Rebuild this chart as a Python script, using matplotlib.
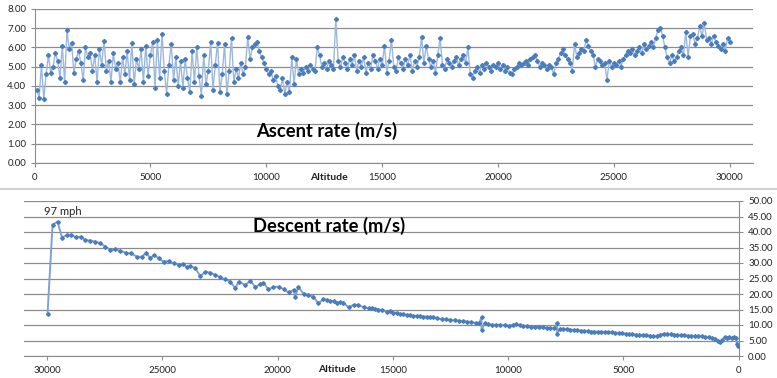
import numpy as np
import matplotlib
matplotlib.use("Agg")
import matplotlib.pyplot as plt
from matplotlib.ticker import FormatStrFormatter
from matplotlib.lines import Line2D

plt.rcParams["font.family"] = ["Lato", "DejaVu Sans"]

# ======= Dane: wznoszenie (co 100 m od 100 do 30000 m) =======
ascent_alt = np.arange(100, 30001, 100)
ascent_rate = [
    3.8, 3.4, 5.1, 3.3, 4.6, 5.6, 4.7, 5.0, 5.7, 5.3,
    4.4, 6.1, 4.2, 6.9, 5.9, 6.25, 4.7, 5.4, 5.8, 5.2,
    4.3, 6.0, 5.5, 5.7, 4.8, 5.6, 4.2, 5.9, 5.1, 6.35,
    4.8, 5.3, 4.2, 5.7, 4.9, 5.2, 4.2, 5.5, 4.6, 5.8,
    4.3, 6.25, 4.1, 5.4, 4.9, 5.9, 4.2, 6.1, 4.5, 5.6,
    6.3, 3.9, 6.4, 4.4, 6.7, 4.8, 3.6, 5.1, 6.2, 4.3,
    5.5, 4.0, 5.3, 3.9, 5.4, 4.4, 3.7, 5.8, 4.2, 6.0,
    4.5, 3.5, 5.6, 4.1, 4.8, 6.3, 3.8, 5.1, 6.25, 3.7,
    4.6, 6.2, 3.6, 4.8, 6.5, 4.2, 4.9, 4.4, 5.2, 4.6,
    5.0, 6.55, 5.4, 6.0, 6.2, 6.3, 5.8, 5.5, 5.2, 4.9,
    4.6, 4.8, 4.3, 4.5, 4.0, 3.8, 4.4, 3.6, 4.2, 3.7,
    5.5, 4.1, 5.4, 4.6, 4.9, 4.7, 5.0, 4.8, 5.1, 4.9,
    4.8, 6.0, 5.6, 5.0, 5.2, 4.9, 5.3, 5.1, 4.9, 7.5,
    5.3, 5.0, 5.5, 5.2, 4.9, 5.4, 5.1, 5.6, 4.8, 5.3,
    5.0, 5.5, 4.7, 5.2, 4.9, 5.6, 5.3, 4.9, 5.4, 5.1,
    6.1, 4.7, 5.3, 6.4, 5.0, 4.8, 5.5, 5.2, 4.9, 5.4,
    5.1, 5.6, 4.8, 5.3, 5.0, 5.5, 6.55, 5.2, 6.1, 5.4,
    5.0, 5.3, 4.7, 5.6, 6.5, 5.1, 4.9, 5.4, 5.2, 5.0,
    5.3, 5.5, 5.1, 5.4, 5.6, 5.2, 6.0, 4.6, 4.4, 4.8,
    5.0, 4.7, 5.1, 4.9, 5.2, 5.0, 4.8, 5.1, 5.0, 5.2,
    4.9, 5.1, 4.8, 5.0, 4.7, 4.6, 4.9, 5.0, 5.2, 5.1,
    5.2, 5.3, 5.1, 5.4, 5.5, 5.6, 5.3, 5.0, 5.2, 5.1,
    4.9, 5.1, 5.0, 4.6, 5.2, 5.4, 5.7, 5.9, 5.6, 5.4,
    5.2, 4.8, 6.2, 5.5, 5.7, 5.9, 5.8, 6.4, 6.1, 5.8,
    5.6, 5.0, 5.4, 5.3, 5.1, 5.2, 4.3, 5.3, 5.0, 5.2,
    5.1, 5.3, 5.0, 5.4, 5.6, 5.8, 5.7, 5.9, 5.6, 5.8,
    6.0, 5.7, 6.2, 5.9, 6.1, 6.3, 6.0, 6.5, 6.9, 7.0,
    6.6, 6.0, 5.5, 5.2, 5.6, 5.3, 5.5, 5.8, 6.0, 5.6,
    6.8, 5.5, 6.6, 6.7, 6.2, 6.5, 7.1, 6.6, 7.25, 6.4,
    6.5, 6.2, 6.6, 6.3, 6.1, 5.9, 6.2, 5.8, 6.5, 6.3,
]

# ======= Dane: opadanie =======
descent_alt = [
    29980, 29760, 29545, 29350, 29140, 28960, 28730, 28530, 28340, 28125,
    27910, 27690, 27470, 27260, 27040, 26820, 26560, 26350, 26100, 25890,
    25700, 25520, 25350, 25160, 24940, 24730, 24510, 24290, 24100, 23930,
    23790, 23570, 23350, 23130, 22920, 22700, 22480, 22270, 22050, 21830,
    21690, 21400, 21180, 20960, 20750, 20610, 20400, 20180, 19950, 19730,
    19520, 19300, 19230, 19100, 18870, 18660, 18440, 18230, 18010, 17850,
    17710, 17560, 17420, 17280, 17140, 16920, 16700, 16490, 16270, 16050,
    15900, 15760, 15620, 15480, 15260, 15110, 14970, 14820, 14670, 14540,
    14400, 14250, 14110, 13960, 13820, 13670, 13530, 13390, 13250, 13060,
    12870, 12680, 12500, 12320, 12140, 11960, 11780, 11600, 11410, 11250,
    11150, 11150, 11000, 10850, 10690, 10510, 10330, 10150, 9970, 9800,
    9650, 9500, 9330, 9160, 9000, 8830, 8660, 8500, 8330, 8160,
    8000, 7870, 7870, 7750, 7600, 7450, 7300, 7150, 7000, 6850,
    6700, 6550, 6400, 6250, 6100, 5950, 5800, 5650, 5500, 5350,
    5200, 5050, 4900, 4750, 4600, 4450, 4300, 4150, 4000, 3850,
    3700, 3550, 3400, 3250, 3100, 2950, 2800, 2650, 2500, 2350,
    2200, 2050, 1900, 1750, 1600, 1450, 1300, 1150, 1000, 900,
    800, 700, 600, 500, 400, 300, 200, 130, 60, 20,
]
descent_rate = [
    13.5, 42.4, 43.3, 38.2, 39.0, 39.0, 38.3, 38.5, 37.4, 37.2,
    36.9, 36.4, 35.3, 34.2, 34.4, 33.9, 33.3, 33.1, 32.0, 32.0,
    33.3, 31.5, 32.6, 31.5, 30.4, 30.6, 29.9, 29.4, 29.7, 28.6,
    29.0, 28.3, 25.8, 27.2, 26.9, 26.1, 25.4, 24.7, 24.0, 21.8,
    24.0, 22.9, 24.3, 22.2, 23.2, 23.6, 21.5, 22.2, 22.4, 21.5,
    20.5, 21.3, 18.9, 22.4, 20.0, 19.7, 19.1, 17.0, 18.3, 18.0,
    17.8, 17.6, 17.0, 17.3, 17.2, 15.7, 16.5, 16.5, 15.7, 15.4,
    15.5, 15.1, 15.0, 14.8, 14.3, 14.4, 14.0, 13.9, 13.5, 13.4,
    13.2, 13.1, 12.9, 13.0, 12.9, 12.7, 12.7, 12.6, 12.5, 12.1,
    11.8, 11.8, 11.6, 11.5, 11.4, 11.2, 11.1, 10.9, 10.7, 10.6,
    12.5, 8.5, 10.5, 10.3, 10.0, 10.1, 10.0, 9.9, 9.8, 10.0,
    10.3, 9.9, 9.7, 9.6, 9.5, 9.4, 9.3, 9.2, 9.1, 9.0,
    8.9, 10.5, 7.2, 8.8, 8.7, 8.6, 8.5, 8.4, 8.3, 8.2,
    8.1, 8.0, 7.9, 7.9, 7.8, 7.8, 7.7, 7.6, 7.6, 7.5,
    7.4, 7.3, 7.2, 7.1, 7.0, 6.9, 6.8, 6.7, 6.7, 6.6,
    6.4, 6.3, 6.8, 7.2, 7.1, 7.0, 6.9, 6.8, 6.8, 6.7,
    6.6, 6.5, 6.5, 6.4, 6.3, 6.1, 6.0, 5.8, 5.5, 5.0,
    4.5, 5.2, 6.1, 5.9, 6.0, 5.8, 6.0, 5.7, 4.0, 3.1,
]
assert len(ascent_rate) == len(ascent_alt)
assert len(descent_rate) == len(descent_alt)

LINE_C = "#9db8dd"
MARK_C = "#4a7dbb"
GRID_C = "#8c8c8c"
AXIS_C = "#8c8c8c"
TEXT_C = "#222222"

W, H = 777, 378
fig = plt.figure(figsize=(W / 100, H / 100), dpi=100)


def box(l, t, r, b):
    return [l / W, 1 - b / H, (r - l) / W, (b - t) / H]


# ======= Wykres górny: ascent =======
ax1 = fig.add_axes(box(34.5, 9, 753, 163))
ax1.plot(ascent_alt, ascent_rate, color=LINE_C, lw=1.0, zorder=2)
ax1.plot(ascent_alt, ascent_rate, ls="none", marker="D", ms=2.1,
         color=MARK_C, zorder=3)
ax1.set_xlim(0, 31000)
ax1.set_ylim(0, 8)
ax1.set_xticks(range(0, 30001, 5000))
ax1.set_yticks(range(0, 9))
ax1.yaxis.set_major_formatter(FormatStrFormatter("%.2f"))
ax1.grid(axis="y", color=GRID_C, lw=0.9)
ax1.set_axisbelow(True)
for s in ["top", "right"]:
    ax1.spines[s].set_visible(False)
for s in ["left", "bottom"]:
    ax1.spines[s].set_color(AXIS_C)
ax1.tick_params(axis="x", length=3, color=AXIS_C, labelsize=7, pad=4.5,
                labelcolor=TEXT_C)
ax1.tick_params(axis="y", length=3, color=AXIS_C, labelsize=7, pad=3,
                labelcolor=TEXT_C)

fig.text(327 / W, 1 - 131 / H, "Ascent rate (m/s)", ha="center",
         va="center", fontsize=13.2, fontweight="bold", color="black")
fig.text(329 / W, 1 - 177 / H, "Altitude", ha="center", va="center",
         fontsize=7.5, fontweight="bold", color=TEXT_C)

# linia oddzielająca
fig.add_artist(Line2D([0, 1], [1 - 189.5 / H, 1 - 189.5 / H],
                      color="#c8c8c8", lw=1.2, transform=fig.transFigure))

# ======= Wykres dolny: descent =======
ax2 = fig.add_axes(box(24, 201, 738.5, 356))
ax2.plot(descent_alt, descent_rate, color="#7fa2d2", lw=1.4, zorder=2)
ax2.plot(descent_alt, descent_rate, ls="none", marker="D", ms=1.9,
         color=MARK_C, zorder=3)
ax2.set_xlim(31000, 0)
ax2.set_ylim(0, 50)
ax2.set_xticks(range(0, 30001, 5000))
ax2.set_yticks(range(0, 51, 5))
ax2.yaxis.tick_right()
ax2.yaxis.set_major_formatter(FormatStrFormatter("%.2f"))
ax2.grid(axis="y", color=GRID_C, lw=0.9)
ax2.set_axisbelow(True)
for s in ["top", "left"]:
    ax2.spines[s].set_visible(False)
for s in ["right", "bottom"]:
    ax2.spines[s].set_color(AXIS_C)
ax2.tick_params(axis="x", length=3, color=AXIS_C, labelsize=7, pad=4,
                labelcolor=TEXT_C)
ax2.tick_params(axis="y", length=3, color=AXIS_C, labelsize=7, pad=4,
                labelcolor=TEXT_C)

fig.text(329 / W, 1 - 226 / H, "Descent rate (m/s)", ha="center",
         va="center", fontsize=13.2, fontweight="bold", color="black")
fig.text(63 / W, 1 - 211 / H, "97 mph", ha="center", va="center",
         fontsize=8, color=TEXT_C)
fig.text(337 / W, 1 - 369 / H, "Altitude", ha="center", va="center",
         fontsize=7.5, fontweight="bold", color=TEXT_C)

fig.savefig("out.png", dpi=100, facecolor="white")
